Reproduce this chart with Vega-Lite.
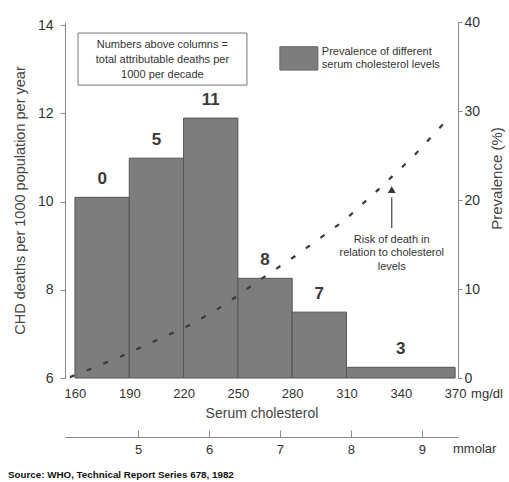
{
  "$schema": "https://vega.github.io/schema/vega-lite/v6.json",
  "width": 393,
  "height": 356,
  "autosize": "none",
  "padding": {"left": 65, "top": 22, "right": 51, "bottom": 104},
  "background": "white",
  "config": {"view": {"stroke": null}, "font": "Liberation Sans", "axis": {"grid": false}},
  "title": {"text": "Source:  WHO, Technical Report Series 678, 1982", "orient": "bottom", "anchor": "start", "frame": "group", "fontSize": 9.8, "fontWeight": "bold", "color": "#111", "dx": -57, "offset": 14, "font": "Liberation Sans"},
  "resolve": {"scale": {"x": "independent", "y": "independent"}, "axis": {"x": "independent", "y": "independent"}},
  "layer": [
    {
      "data": {"values": [
        {"from": 160, "to": 190, "mid": 175, "prev": 20.3, "deaths": "0"},
        {"from": 190, "to": 220, "mid": 205, "prev": 24.7, "deaths": "5"},
        {"from": 220, "to": 250, "mid": 235, "prev": 29.2, "deaths": "11"},
        {"from": 250, "to": 280, "mid": 265, "prev": 11.2, "deaths": "8"},
        {"from": 280, "to": 310, "mid": 295, "prev": 7.4, "deaths": "7"},
        {"from": 310, "to": 370, "mid": 340, "prev": 1.2, "deaths": "3"}
      ]},
      "layer": [
        {
          "mark": {"type": "rect", "fill": "#7d7d7d", "stroke": "#555", "strokeWidth": 1},
          "encoding": {
            "x": {"field": "from", "type": "quantitative", "scale": {"domain": [154.5, 371.6], "nice": false, "zero": false}, "axis": null},
            "x2": {"field": "to"},
            "y": {"field": "prev", "type": "quantitative", "scale": {"domain": [0, 40], "nice": false}, "title": "Prevalence (%)",
              "axis": {"orient": "right", "values": [0, 10, 20, 30, 40], "domainColor": "#888", "tickColor": "#888", "tickSize": 4, "labelFontSize": 14, "labelColor": "#333", "labelPadding": 2, "title": "Prevalence (%)", "titleFontSize": 15, "titleFontWeight": "normal", "titleColor": "#444", "titleAngle": 270, "titleAlign": "center", "titleBaseline": "middle", "titleX": 38, "titleY": 156}},
            "y2": {"datum": 0}
          }
        },
        {
          "mark": {"type": "text", "align": "center", "baseline": "middle", "dy": -18, "fontSize": 17, "fontWeight": "bold", "color": "#3a3a3a"},
          "encoding": {
            "x": {"field": "mid", "type": "quantitative"},
            "y": {"field": "prev", "type": "quantitative", "title": "Prevalence (%)"},
            "text": {"field": "deaths"}
          }
        }
      ]
    },
    {
      "layer": [
        {
          "data": {"values": [
            {"chol": 157.2, "deaths": 6.02}, {"chol": 167.2, "deaths": 6.18}, {"chol": 186, "deaths": 6.5},
            {"chol": 205.3, "deaths": 6.86}, {"chol": 223.5, "deaths": 7.2}, {"chol": 242.8, "deaths": 7.66},
            {"chol": 260.5, "deaths": 8.18}, {"chol": 282.6, "deaths": 8.79}, {"chol": 309.1, "deaths": 9.58},
            {"chol": 327.3, "deaths": 10.26}, {"chol": 346.6, "deaths": 11.01}, {"chol": 366, "deaths": 11.87}
          ]},
          "mark": {"type": "line", "strokeDash": [5, 13], "color": "#3a3a3a", "strokeWidth": 2.2},
          "encoding": {
            "x": {"field": "chol", "type": "quantitative", "title": "Serum cholesterol", "scale": {"domain": [154.5, 371.6], "nice": false, "zero": false},
              "axis": {"orient": "bottom", "values": [160, 190, 220, 250, 280, 310, 340, 370], "domain": false, "ticks": false, "labelFontSize": 13, "labelColor": "#333", "labelPadding": 9, "title": "Serum cholesterol", "titleFontSize": 14, "titleFontWeight": "normal", "titleColor": "#444", "titlePadding": 6}},
            "y": {"field": "deaths", "type": "quantitative", "title": "CHD deaths per 1000 population per year", "scale": {"domain": [6, 14.07], "nice": false, "zero": false},
              "axis": {"orient": "left", "values": [6, 8, 10, 12, 14], "domainColor": "#888", "tickColor": "#888", "tickSize": 5, "labelFontSize": 14, "labelColor": "#333", "labelPadding": 7, "title": "CHD deaths per 1000 population per year", "titleFontSize": 14.5, "titleFontWeight": "normal", "titleColor": "#444", "titlePadding": 10}}
          }
        },
        {
          "data": {"values": [{"x1": 161.7, "x2": 255, "y1": 12.64, "y2": 13.82}]},
          "mark": {"type": "rect", "fill": "white", "stroke": "#777", "strokeWidth": 1},
          "encoding": {
            "x": {"field": "x1", "type": "quantitative", "title": "Serum cholesterol"}, "x2": {"field": "x2", "title": "Serum cholesterol"},
            "y": {"field": "y1", "type": "quantitative", "title": "CHD deaths per 1000 population per year"}, "y2": {"field": "y2", "title": "CHD deaths per 1000 population per year"}
          }
        },
        {
          "data": {"values": [{"x": 208.3, "y": 13.55, "t": "Numbers above columns =\ntotal attributable deaths per\n1000 per decade"}]},
          "mark": {"type": "text", "align": "center", "baseline": "middle", "lineBreak": "\n", "lineHeight": 15, "fontSize": 11, "color": "#333"},
          "encoding": {
            "x": {"field": "x", "type": "quantitative", "title": "Serum cholesterol"},
            "y": {"field": "y", "type": "quantitative", "title": "CHD deaths per 1000 population per year"},
            "text": {"field": "t"}
          }
        },
        {
          "data": {"values": [{"x1": 273.2, "x2": 294.2, "y1": 12.98, "y2": 13.51}]},
          "mark": {"type": "rect", "fill": "#7d7d7d", "stroke": "#666", "strokeWidth": 1},
          "encoding": {
            "x": {"field": "x1", "type": "quantitative", "title": "Serum cholesterol"}, "x2": {"field": "x2", "title": "Serum cholesterol"},
            "y": {"field": "y1", "type": "quantitative", "title": "CHD deaths per 1000 population per year"}, "y2": {"field": "y2", "title": "CHD deaths per 1000 population per year"}
          }
        },
        {
          "data": {"values": [{"x": 296.4, "y": 13.39, "t": "Prevalence of different\nserum cholesterol levels"}]},
          "mark": {"type": "text", "align": "left", "baseline": "middle", "lineBreak": "\n", "lineHeight": 13, "fontSize": 11, "color": "#333"},
          "encoding": {
            "x": {"field": "x", "type": "quantitative", "title": "Serum cholesterol"},
            "y": {"field": "y", "type": "quantitative", "title": "CHD deaths per 1000 population per year"},
            "text": {"field": "t"}
          }
        },
        {
          "data": {"values": [{"x": 335, "y1": 9.4, "y2": 10.1}]},
          "mark": {"type": "rule", "color": "#444", "strokeWidth": 1.2},
          "encoding": {
            "x": {"field": "x", "type": "quantitative", "title": "Serum cholesterol"},
            "y": {"field": "y1", "type": "quantitative", "title": "CHD deaths per 1000 population per year"}, "y2": {"field": "y2", "title": "CHD deaths per 1000 population per year"}
          }
        },
        {
          "data": {"values": [{"x": 335, "y": 10.27}]},
          "mark": {"type": "point", "shape": "triangle-up", "filled": true, "color": "#333", "size": 60, "opacity": 1},
          "encoding": {
            "x": {"field": "x", "type": "quantitative", "title": "Serum cholesterol"},
            "y": {"field": "y", "type": "quantitative", "title": "CHD deaths per 1000 population per year"}
          }
        },
        {
          "data": {"values": [{"x": 335, "y": 9.13, "t": "Risk of death in\nrelation to cholesterol\nlevels"}]},
          "mark": {"type": "text", "align": "center", "baseline": "middle", "lineBreak": "\n", "lineHeight": 13.5, "fontSize": 11, "color": "#333"},
          "encoding": {
            "x": {"field": "x", "type": "quantitative", "title": "Serum cholesterol"},
            "y": {"field": "y", "type": "quantitative", "title": "CHD deaths per 1000 population per year"},
            "text": {"field": "t"}
          }
        },
        {
          "data": {"values": [{"x": 370, "y": 6, "t": "mg/dl"}]},
          "mark": {"type": "text", "align": "left", "baseline": "middle", "dx": 16, "dy": 16, "fontSize": 13, "color": "#333"},
          "encoding": {
            "x": {"field": "x", "type": "quantitative", "title": "Serum cholesterol"},
            "y": {"field": "y", "type": "quantitative", "title": "CHD deaths per 1000 population per year"},
            "text": {"field": "t"}
          }
        }
      ]
    },
    {
      "data": {"values": [{"mm": 9.44, "lvl": 4.39, "t": "mmolar"}]},
      "mark": {"type": "text", "align": "left", "baseline": "middle", "fontSize": 13, "color": "#333"},
      "encoding": {
        "x": {"field": "mm", "type": "quantitative", "scale": {"domain": [3.97, 9.51], "nice": false, "zero": false},
          "axis": {"orient": "bottom", "offset": 59, "values": [5, 6, 7, 8, 9], "domainColor": "#888", "tickColor": "#888", "tickSize": -7, "labelPadding": 13, "labelFontSize": 13, "labelColor": "#333", "title": null}},
        "y": {"field": "lvl", "type": "quantitative", "scale": {"domain": [6, 14.07], "nice": false, "zero": false}, "axis": null},
        "text": {"field": "t"}
      }
    }
  ]
}
